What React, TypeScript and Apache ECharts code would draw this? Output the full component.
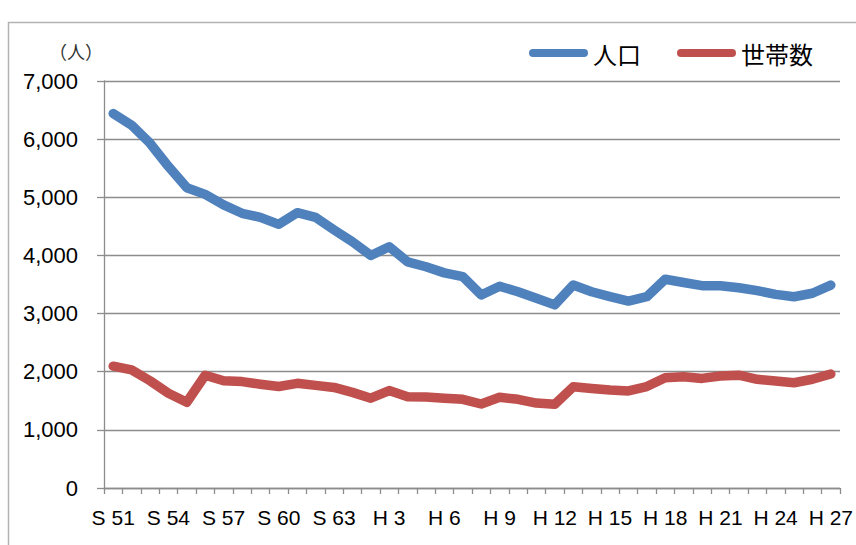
import React, { useEffect, useRef } from "react";
import * as echarts from "echarts";

const categories = [
  "S51", "S52", "S53", "S54", "S55", "S56", "S57", "S58", "S59", "S60",
  "S61", "S62", "S63", "H1", "H2", "H3", "H4", "H5", "H6", "H7",
  "H8", "H9", "H10", "H11", "H12", "H13", "H14", "H15", "H16", "H17",
  "H18", "H19", "H20", "H21", "H22", "H23", "H24", "H25", "H26", "H27",
];

const population = [
  6440, 6240, 5930, 5530, 5165, 5050, 4870, 4725, 4655, 4535,
  4735, 4655, 4440, 4235, 4000, 4150, 3890, 3805, 3700, 3635,
  3320, 3470, 3375, 3265, 3150, 3490, 3375, 3290, 3215, 3290,
  3590, 3535, 3480, 3480, 3445, 3395, 3330, 3290, 3350, 3490,
];

const households = [
  2095, 2030, 1845, 1630, 1475, 1940, 1845, 1830, 1785, 1745,
  1800, 1765, 1730, 1645, 1545, 1675, 1570, 1565, 1545, 1525,
  1445, 1560, 1525, 1460, 1440, 1740, 1710, 1685, 1670, 1745,
  1895, 1915, 1885, 1925, 1940, 1870, 1840, 1810, 1870, 1960,
];

const seriesNames = ["人口", "世帯数"];
const unitLabel = "（人）";

const BLUE = "#4F81BD";
const RED = "#C0504D";
const GRID = "#8C8C8C";
const PILL = "path://M4,0 L55,0 A4,4 0 0 1 55,8 L4,8 A4,4 0 0 1 4,0 Z";

export default function App() {
  const ref = useRef<HTMLDivElement>(null);

  useEffect(() => {
    if (!ref.current) return;
    const chart = echarts.init(ref.current, undefined, { renderer: "svg" });
    chart.setOption({
      animation: false,
      backgroundColor: "#ffffff",
      grid: { left: 104, right: 16, top: 81, bottom: 57, containLabel: false },
      legend: {
        left: 529,
        top: 41,
        padding: 0,
        itemWidth: 59,
        itemHeight: 8,
        itemGap: 36,
        textStyle: {
          fontFamily: "'Noto Sans CJK JP', sans-serif",
          fontSize: 24,
          color: "#000000",
        },
        data: [
          { name: seriesNames[0], icon: PILL, itemStyle: { color: BLUE } },
          { name: seriesNames[1], icon: PILL, itemStyle: { color: RED } },
        ],
      },
      xAxis: {
        type: "category",
        data: categories,
        boundaryGap: true,
        axisLine: { lineStyle: { color: GRID, width: 1.3 } },
        axisTick: { show: true, interval: 0, length: 6, lineStyle: { color: GRID, width: 1.3 } },
        axisLabel: {
          interval: 2,
          margin: 19,
          fontFamily: "'Liberation Sans', Arial, sans-serif",
          fontSize: 21,
          color: "#000000",
          formatter: (v: string) => v.replace(/^([SH])/, "$1 "),
        },
        splitLine: { show: false },
      },
      yAxis: {
        type: "value",
        min: 0,
        max: 7000,
        interval: 1000,
        axisLine: { show: true, lineStyle: { color: GRID, width: 1.3 } },
        axisTick: { show: true, length: 7, lineStyle: { color: GRID, width: 1.3 } },
        axisLabel: {
          margin: 26,
          fontFamily: "'Liberation Sans', Arial, sans-serif",
          fontSize: 22,
          color: "#000000",
          formatter: (v: number) => v.toLocaleString("en-US"),
        },
        splitLine: { show: true, lineStyle: { color: GRID, width: 1.3 } },
      },
      series: [
        {
          name: seriesNames[0],
          type: "line",
          data: population,
          symbol: "none",
          color: BLUE,
          lineStyle: { color: BLUE, width: 9.5, cap: "round", join: "round" },
        },
        {
          name: seriesNames[1],
          type: "line",
          data: households,
          symbol: "none",
          color: RED,
          lineStyle: { color: RED, width: 9.5, cap: "round", join: "round" },
        },
      ],
      graphic: [
        {
          type: "rect",
          shape: { x: 8.5, y: 22.5, width: 900, height: 600 },
          style: { fill: "none", stroke: "#B3B3B3", lineWidth: 1.5 },
          silent: true,
        },
        {
          type: "text",
          x: 76,
          y: 51,
          style: {
            text: unitLabel,
            fontFamily: "'Noto Sans CJK JP', sans-serif",
            fontSize: 18,
            fill: "#333333",
            align: "center",
            verticalAlign: "middle",
          },
        },
      ],
    });
    return () => chart.dispose();
  }, []);

  return (
    <div
      ref={ref}
      style={{ position: "absolute", left: 0, top: 0, width: 856, height: 545 }}
    />
  );
}
